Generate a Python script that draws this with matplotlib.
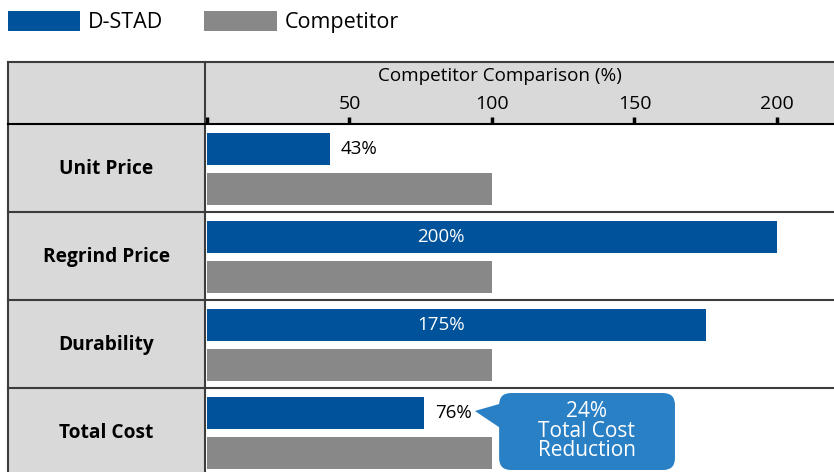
import numpy as np
import matplotlib.pyplot as plt
from matplotlib.patches import Rectangle, FancyBboxPatch, Polygon, Patch
import matplotlib.transforms as mtransforms

plt.rcParams['font.family'] = ['Open Sans', 'DejaVu Sans']

categories = ['Unit Price', 'Regrind Price', 'Durability', 'Total Cost']
dstad = [43, 200, 175, 76]
competitor = [100, 100, 100, 100]
ticks = [0, 50, 100, 150, 200]
tick_labels = ['', '50', '100', '150', '200']
axis_title = 'Competitor Comparison (%)'
callout_text = '24%\nTotal Cost\nReduction'

blue = '#00529b'
grey = '#888888'
callout_blue = '#2a80c5'
panel = '#d9d9d9'
line = '#3c3c3c'

W, H = 834, 472
fig = plt.figure(figsize=(W / 100, H / 100), dpi=100)
# bar area: right of the label column, below the header row
ax = fig.add_axes([205 / W, 0, 629 / W, 348 / H])
px_per_unit = 2.85
ax.set_xlim(-0.7, 629 / px_per_unit - 0.7)
row_h = 88
ax.set_ylim(348 / row_h, 0)
ax.set_facecolor('white')

n = len(categories)
rows = np.arange(n)
bh = 0.36
ax.barh(rows + 0.285, dstad, height=bh, color=blue, zorder=3)
ax.barh(rows + 0.74, competitor, height=bh, color=grey, zorder=3)

# value labels
for i, v in enumerate(dstad):
    if v > 150:
        ax.text(82, i + 0.285, f'{v}%', color='white', ha='center', va='center', fontsize=13.5, zorder=4)
    else:
        ax.text(v + 4, i + 0.285, f'{v}%', color='black', ha='left', va='center', fontsize=13.5, zorder=4)

# table chrome
left = -(205 - 8) / 629
top = 1 + 62 / 348
ax.add_patch(Rectangle((left, 0), -left, top, transform=ax.transAxes, fc=panel, ec='none',
                       clip_on=False, zorder=0))
ax.add_patch(Rectangle((0, 1), 1, top - 1, transform=ax.transAxes, fc=panel, ec='none',
                       clip_on=False, zorder=0))
ax.plot([left, 1], [top, top], color=line, lw=1.5, transform=ax.transAxes, clip_on=False)
ax.plot([left, left], [0, top], color=line, lw=1.5, transform=ax.transAxes, clip_on=False)
ax.plot([0, 0], [0, top], color=line, lw=1.5, transform=ax.transAxes, clip_on=False)
ax.plot([left, 1], [1, 1], color='black', lw=1.5, transform=ax.transAxes, clip_on=False)
blend = mtransforms.blended_transform_factory(ax.transAxes, ax.transData)
for i in range(1, n):
    ax.plot([left, 1], [i, i], color=line, lw=1.5, transform=blend, clip_on=False)

for i, c in enumerate(categories):
    ax.text(left / 2, i + 0.51, c, transform=blend, ha='center', va='center',
            fontsize=13.8, fontweight='bold', clip_on=False)

for s in ax.spines.values():
    s.set_visible(False)
ax.xaxis.tick_top()
ax.set_xticks(ticks)
ax.set_xticklabels(tick_labels)
ax.tick_params(axis='x', direction='out', length=5, width=2.5, pad=3, labelsize=14, color='black')
ax.set_yticks([])
ax.text((500 - 205) / 629, 1 + (124 - 76) / 348, axis_title, transform=ax.transAxes,
        ha='center', va='center', fontsize=13.6)

# callout bubble
aspect = px_per_unit / row_h
bubble = FancyBboxPatch((102.5, 3.057), 61.7, 0.875,
                        boxstyle='round,pad=0,rounding_size=4.2', mutation_aspect=aspect,
                        fc=callout_blue, ec='none', zorder=5, clip_on=False)
ax.add_patch(bubble)
ax.add_patch(Polygon([(94, 3.261), (105, 3.159), (105, 3.50)], closed=True,
                     fc=callout_blue, ec='none', zorder=5, clip_on=False))
ax.text(133.3, 3.49, callout_text, color='white', ha='center', va='center',
        fontsize=15, linespacing=0.92, zorder=6)

handles = [Patch(fc=blue, ec='none', label='D-STAD'), Patch(fc=grey, ec='none', label='Competitor')]
fig.legend(handles=handles, loc='upper left', bbox_to_anchor=(8 / W, 1 - 11 / H), ncol=2,
           frameon=False, fontsize=15.5, handlelength=3.35, handleheight=1.02,
           handletextpad=0.38, columnspacing=1.9, borderpad=0, borderaxespad=0)

fig.savefig('out.png', dpi=100)
